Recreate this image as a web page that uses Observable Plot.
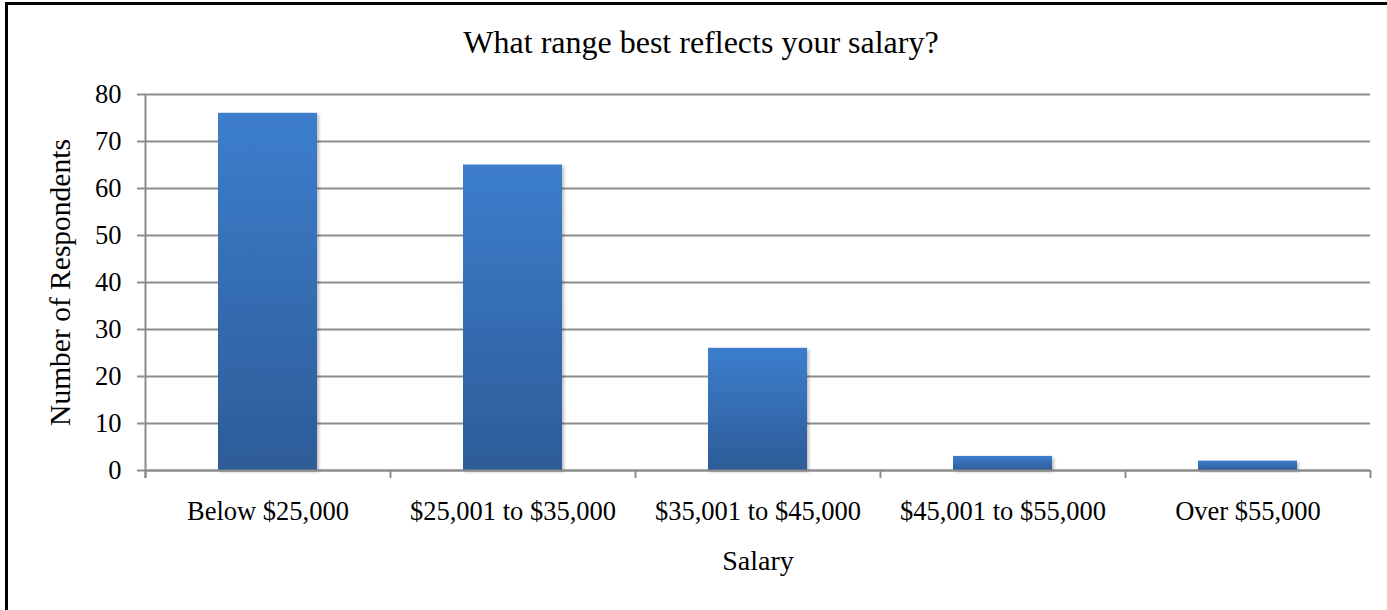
<!DOCTYPE html>
<html>
<head>
<meta charset="utf-8">
<script src="https://cdn.jsdelivr.net/npm/d3@7"></script>
<script src="https://cdn.jsdelivr.net/npm/@observablehq/plot@0.6"></script>
<style>
  html, body { margin: 0; padding: 0; background: #fff; overflow: hidden; }
  body { width: 1387px; height: 610px; position: relative; font-family: "Liberation Serif", "Times New Roman", serif; }
  #frame { position: absolute; left: 5px; top: 2px; width: 1420px; height: 640px; border-left: 3px solid #000; border-top: 3px solid #000; box-sizing: border-box; }
  #title { position: absolute; left: 0; top: 26px; width: 1402px; text-align: center; font-size: 32px; line-height: 32px; color: #000; }
  #chart { position: absolute; left: 0; top: 0; }
</style>
</head>
<body>
<div id="frame"></div>
<div id="chart"></div>
<div id="title">What range best reflects your salary?</div>
<script>
const titleText = "What range best reflects your salary?";
const categories = ["Below $25,000", "$25,001 to $35,000", "$35,001 to $45,000", "$45,001 to $55,000", "Over $55,000"];
const respondents = [76, 65, 26, 3, 2];
const yTicks = [0, 10, 20, 30, 40, 50, 60, 70, 80];
const xTitle = "Salary";
const yTitle = "Number of Respondents";

document.getElementById("title").textContent = titleText;
const data = categories.map((c, i) => ({salary: c, count: respondents[i]}));

const W = 1387, H = 610;
const mL = 145, mR = 17, mT = 94, mB = 140;
const step = (W - mL - mR) / categories.length;
const grid = "#8c8c8c";
const font = "Liberation Serif, Times New Roman, serif";

const chart = Plot.plot({
  width: W,
  height: H,
  marginLeft: mL,
  marginRight: mR,
  marginTop: mT,
  marginBottom: mB,
  style: {fontFamily: font, fontSize: "26.5px", color: "#000", background: "transparent", overflow: "visible"},
  x: {domain: categories, paddingInner: 0.596, paddingOuter: 0.298, label: null},
  y: {domain: [0, 80], label: null},
  marks: [
    Plot.gridY(yTicks, {stroke: grid, strokeOpacity: 1, strokeWidth: 2, insetLeft: -8}),
    Plot.barY(data, {x: "salary", y: "count", fill: "#3672bb", className: "salbar"}),
    Plot.ruleY([0], {stroke: grid, strokeWidth: 2}),
    Plot.tickX([categories[0]], {dx: -step / 2, stroke: grid, strokeWidth: 2, insetBottom: -8}),
    Plot.tickX(categories, {dx: -step / 2, stroke: grid, strokeWidth: 2, insetTop: H - mT - mB, insetBottom: -8}),
    Plot.tickX([categories[categories.length - 1]], {dx: step / 2, stroke: grid, strokeWidth: 2, insetTop: H - mT - mB, insetBottom: -8}),
    Plot.axisY(yTicks, {tickSize: 0, tickPadding: 24, fontSize: 26.5, label: null}),
    Plot.axisX({tickSize: 0, tickPadding: 31, fontSize: 26.5, label: null}),
    Plot.text([xTitle], {frameAnchor: "bottom", dy: 99, fontSize: 28, textAnchor: "middle"}),
    Plot.text([yTitle], {frameAnchor: "left", dx: -85, rotate: -90, fontSize: 29.5, textAnchor: "middle"})
  ]
});

const svg = d3.select(chart);
const defs = svg.insert("defs", ":first-child");
const g = defs.append("linearGradient").attr("id", "barGrad").attr("x1", 0).attr("y1", 0).attr("x2", 0).attr("y2", 1);
g.append("stop").attr("offset", "0%").attr("stop-color", "#3c7ecd");
g.append("stop").attr("offset", "100%").attr("stop-color", "#2d5c98");
const f = defs.append("filter").attr("id", "barShadow").attr("x", "-20%").attr("y", "-20%").attr("width", "150%").attr("height", "150%");
f.append("feDropShadow").attr("dx", 2).attr("dy", 2).attr("stdDeviation", 1.5).attr("flood-color", "#000").attr("flood-opacity", 0.25);
svg.selectAll(".salbar rect").attr("fill", "url(#barGrad)").attr("filter", "url(#barShadow)");
svg.selectAll(".salbar").attr("fill", "url(#barGrad)");

document.getElementById("chart").appendChild(chart);
</script>
</body>
</html>
